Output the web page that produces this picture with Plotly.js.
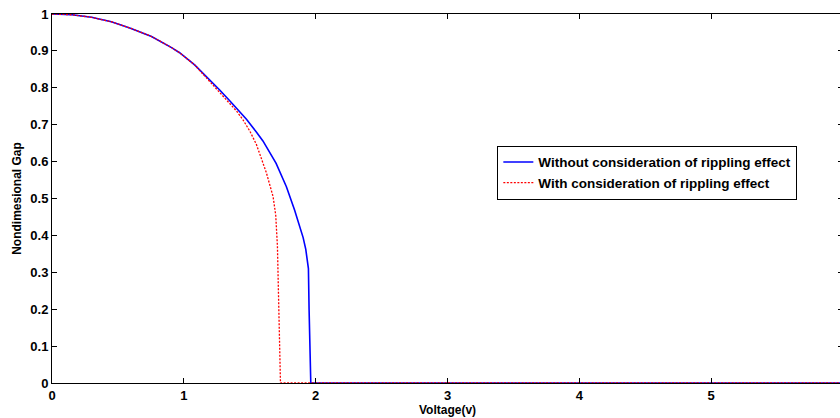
<!DOCTYPE html>
<html>
<head>
<meta charset="utf-8">
<script src="https://cdn.plot.ly/plotly-3.0.1.min.js"></script>
<style>
html,body{margin:0;padding:0;overflow:hidden;background:#fff;}
#chart{width:846px;height:418px;}
</style>
</head>
<body>
<div id="chart"></div>
<script>
// Data
const voltageWithout = [0, 0.15, 0.30, 0.45, 0.60, 0.755, 0.907, 0.968, 1.082, 1.196, 1.272, 1.348, 1.40, 1.475, 1.55, 1.60, 1.70, 1.778, 1.84, 1.866, 1.905, 1.925, 1.938, 1.945, 1.950, 1.955, 1.963, 6];
const gapWithout     = [1, 0.998, 0.991, 0.979, 0.961, 0.939, 0.909, 0.895, 0.862, 0.822, 0.794, 0.765, 0.745, 0.715, 0.680, 0.656, 0.595, 0.532, 0.469, 0.440, 0.394, 0.362, 0.333, 0.310, 0.2, 0.1, 0, 0];

const voltageWith = [0, 0.15, 0.30, 0.45, 0.60, 0.755, 0.907, 0.968, 1.082, 1.196, 1.272, 1.323, 1.40, 1.449, 1.50, 1.55, 1.60, 1.626, 1.677, 1.697, 1.71, 1.715, 1.725, 1.733, 6];
const gapWith     = [1, 0.998, 0.991, 0.979, 0.961, 0.939, 0.909, 0.895, 0.862, 0.818, 0.789, 0.768, 0.737, 0.713, 0.683, 0.647, 0.600, 0.570, 0.505, 0.455, 0.370, 0.285, 0.1, 0, 0];

const seriesNames = ['Without consideration of rippling effect', 'With consideration of rippling effect'];
const xTickVals = [0, 1, 2, 3, 4, 5];
const yTickVals = [0, 0.1, 0.2, 0.3, 0.4, 0.5, 0.6, 0.7, 0.8, 0.9, 1];
const xTitle = 'Voltage(v)';
const yTitle = 'Nondimesional Gap';

const FONT = 'Liberation Sans, Arial, sans-serif';

const traces = [
  {x: voltageWithout, y: gapWithout, name: seriesNames[0], type: 'scatter', mode: 'lines',
   line: {color: '#0000ff', width: 1.6}},
  {x: voltageWith, y: gapWith, name: seriesNames[1], type: 'scatter', mode: 'lines',
   line: {color: '#ff0000', width: 1.3, dash: '2px,1.5px'}}
];

const axisCommon = {
  showgrid: false, zeroline: false, showline: true, linecolor: '#000', linewidth: 1,
  mirror: 'ticks', ticks: 'inside', ticklen: 5, tickcolor: '#000', tickwidth: 1,
  tickfont: {family: FONT, size: 13, color: '#000', weight: 'bold'}
};

const layout = {
  width: 846, height: 418,
  margin: {l: 52, r: 3, t: 14, b: 35},
  paper_bgcolor: '#fff', plot_bgcolor: '#fff',
  showlegend: true,
  legend: {x: 0.563, y: 0.643, xanchor: 'left', yanchor: 'top',
    bordercolor: '#000', borderwidth: 1, bgcolor: '#fff',
    font: {family: FONT, size: 13.5, color: '#000', weight: 'bold'},
    tracegroupgap: 0},
  xaxis: Object.assign({}, axisCommon, {
    range: [0, 6], tickvals: xTickVals,
    title: {text: xTitle, font: {family: FONT, size: 12, color: '#000', weight: 'bold'}, standoff: 2}
  }),
  yaxis: Object.assign({}, axisCommon, {
    range: [0, 1], tickvals: yTickVals,
    title: {text: yTitle, font: {family: FONT, size: 12, color: '#000', weight: 'bold'}, standoff: 6}
  })
};

Plotly.newPlot('chart', traces, layout, {staticPlot: true, displayModeBar: false});
</script>
</body>
</html>
